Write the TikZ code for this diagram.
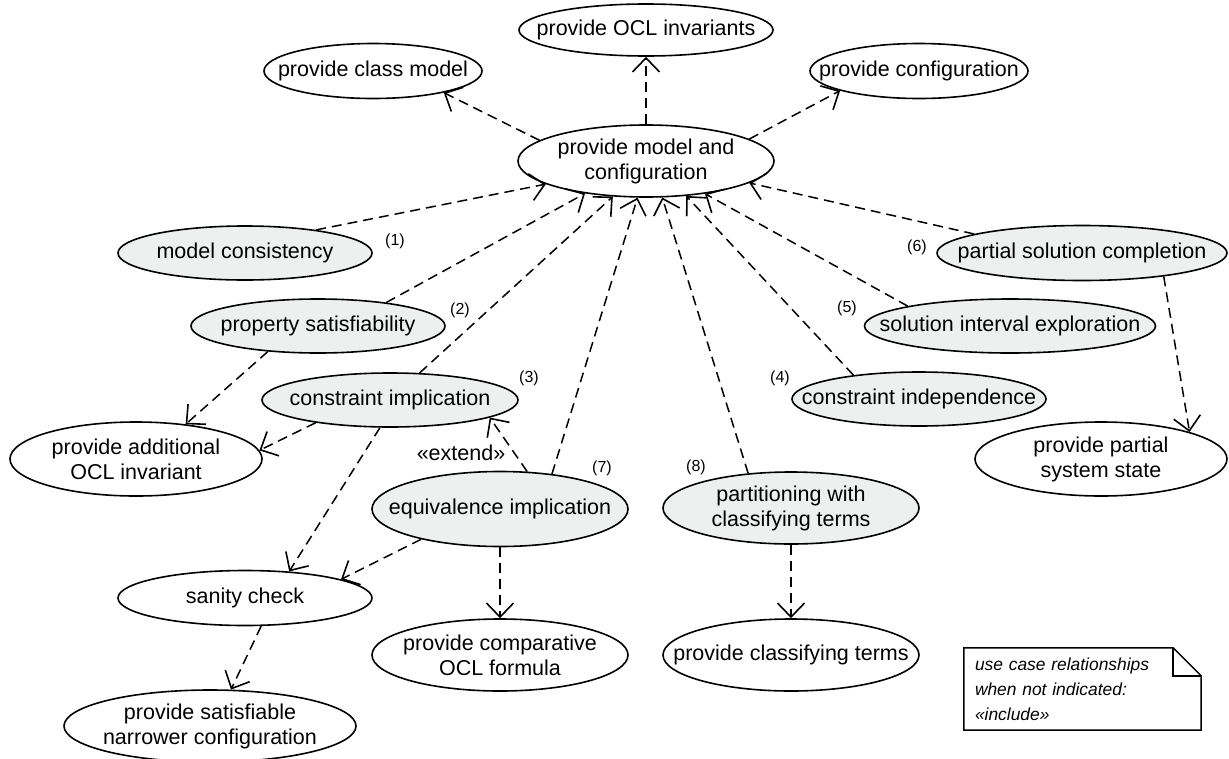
\documentclass[tikz,border=0pt]{standalone}
\usepackage{fontspec}
\setmainfont{Liberation Sans}
\usetikzlibrary{arrows.meta,shapes.geometric}
\definecolor{ucgrey}{RGB}{238,240,239}
\tikzset{
  uc/.style={ellipse, draw, line width=1.6pt, inner sep=-300pt, align=center,
    font=\fontsize{21.5}{25}\selectfont},
  ucg/.style={uc, fill=ucgrey},
  rel/.style={line width=1.5pt, dash pattern=on 10pt off 6pt,
    -{Straight Barb[length=14pt,width=27pt,line width=1.6pt]}},
  num/.style={font=\fontsize{16}{19}\selectfont, inner sep=0pt},
  lbl/.style={font=\fontsize{21.5}{25}\selectfont, inner sep=0pt},
  notebox/.style={rectangle, inner xsep=11pt, inner ysep=0pt, align=left,
    font=\fontsize{17.4}{25}\selectfont\itshape}
}
\begin{document}
\begin{tikzpicture}[x=1pt,y=-1pt]
\useasboundingbox (0,0) rectangle (1229,758);

% included use cases (white)
\node[uc, minimum width=254pt, minimum height=52pt] (ocl) at (646,30) {provide OCL invariants};
\node[uc, minimum width=218pt, minimum height=55pt] (classm) at (373,71) {provide class model};
\node[uc, minimum width=218pt, minimum height=55pt] (conf) at (919,71) {provide configuration};
\node[uc, minimum width=256pt, minimum height=72pt] (pmc) at (646,161) {provide model and\\configuration};
\node[uc, minimum width=252pt, minimum height=74pt] (poi) at (136,459) {provide additional\\OCL invariant};
\node[uc, minimum width=252pt, minimum height=74pt] (ppss) at (1101,459) {provide partial\\system state};
\node[uc, minimum width=254pt, minimum height=55pt] (sc) at (245,598) {sanity check};
\node[uc, minimum width=256pt, minimum height=72pt] (pcomp) at (500,655) {provide comparative\\OCL formula};
\node[uc, minimum width=256pt, minimum height=72pt] (pclass) at (791,655) {provide classifying terms};
\node[uc, minimum width=292pt, minimum height=72pt] (psnc) at (210,726) {provide satisfiable\\narrower configuration};

% main use cases (grey)
\node[ucg, minimum width=254pt, minimum height=54pt] (mc) at (245,253) {model consistency};
\node[ucg, minimum width=254pt, minimum height=54pt] (ps) at (318,326) {property satisfiability};
\node[ucg, minimum width=256pt, minimum height=54pt] (ci) at (390,400) {constraint implication};
\node[ucg, minimum width=256pt, minimum height=75pt] (ei) at (500,509) {equivalence implication};
\node[ucg, minimum width=256pt, minimum height=72pt] (pct) at (791,508) {partitioning with\\classifying terms};
\node[ucg, minimum width=254pt, minimum height=54pt] (cind) at (919,399) {constraint independence};
\node[ucg, minimum width=291pt, minimum height=54pt] (sie) at (1010,326) {solution interval exploration};
\node[ucg, minimum width=290pt, minimum height=55pt] (psc) at (1082,253) {partial solution completion};

% numbering
\node[num] (n1) at (395,241) {(1)};
\node[num] (n2) at (460,310) {(2)};
\node[num] (n3) at (529,378) {(3)};
\node[num] (n4) at (780,378) {(4)};
\node[num] (n5) at (847,308) {(5)};
\node[num] (n6) at (917,247) {(6)};
\node[num] (n7) at (602,468) {(7)};
\node[num] (n8) at (696,467) {(8)};

% relationships
\draw[rel] (pmc.169) -- (classm.343);
\draw[rel] (pmc.90) -- (ocl.270);
\draw[rel] (pmc.12) -- (conf.194);
\draw[rel] (mc.18) -- (pmc.193);
\draw[rel] (ps.19) -- (pmc.208);
\draw[rel] (ci) -- (pmc.227);
\draw[rel] (ei.34) -- (pmc.257);
\draw[rel] (pct.141) -- (pmc.294);
\draw[rel] (cind.160) -- (pmc.319);
\draw[rel] (sie.169) -- (pmc.331);
\draw[rel] (psc.170) -- (pmc.348);
\draw[rel] (ps.207) -- (poi.35);
\draw[rel] (ci.197) -- (poi.4);
\draw[rel] (ci.250) -- (sc.31);
\draw[rel] (ei.54) -- (ci.350);
\node[lbl] (ext) at (461,453) {«extend»};
\draw[rel] (ei.201) -- (sc.11);
\draw[rel] (ei.270) -- (pcomp.90);
\draw[rel] (pct.270) -- (pclass.90);
\draw[rel] (psc.344) -- (ppss.17);
\draw[rel] (sc.300) -- (psnc.60);

% note
\node[notebox, minimum width=237pt, minimum height=82pt, text width=215pt] (note) at (1082.5,689)
  {use case relationships\\when not indicated:\\«include»};
\draw[line width=1.5pt] (note.north west) -- ([xshift=-28pt]note.north east)
  -- ([yshift=-28pt]note.north east) -- (note.south east) -- (note.south west) -- cycle;
\draw[line width=1.5pt] ([xshift=-28pt]note.north east) -- ([xshift=-28pt,yshift=-28pt]note.north east)
  -- ([yshift=-28pt]note.north east);
\end{tikzpicture}
\end{document}
